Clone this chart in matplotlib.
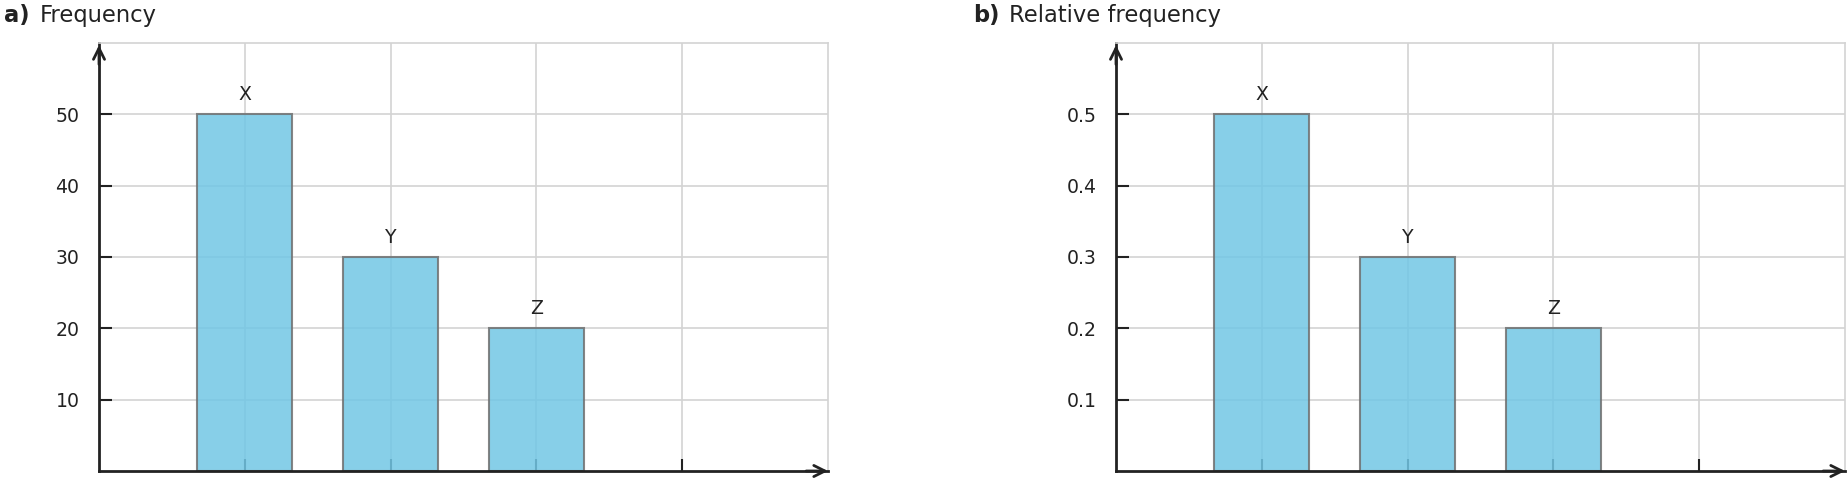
import matplotlib.pyplot as plt

# data
categories = ["X", "Y", "Z"]
positions = [1, 2, 3]
counts = [50, 30, 20]
rel_freq = [0.5, 0.3, 0.2]

panels = [
    ("a)", "Frequency", counts, [10, 20, 30, 40, 50], ["10", "20", "30", "40", "50"], 60),
    ("b)", "Relative frequency", rel_freq, [0.1, 0.2, 0.3, 0.4, 0.5],
     ["0.1", "0.2", "0.3", "0.4", "0.5"], 0.6),
]

W, H = 1848, 480
fig = plt.figure(figsize=(W / 100, H / 100), dpi=100)

ax_lefts = [99, 1116]
title_x = [4, 973]
ax_w = 729
ax_bottom = 9
ax_top = 43

for (tag, title, vals, yt, ytl, ymax), lx, tx in zip(panels, ax_lefts, title_x):
    ax = fig.add_axes([lx / W, ax_bottom / H, ax_w / W, (H - ax_top - ax_bottom) / H])
    ax.set_xlim(0, 5)
    ax.set_ylim(0, ymax)
    ax.set_axisbelow(True)
    ax.grid(True, color="#d3d3d3", linewidth=1.2)
    # semi-transparent bars so the grid shows through
    ax.bar(positions, vals, width=0.65, color="#72c7e5", alpha=0.85,
           edgecolor="#707070", linewidth=1.5, zorder=2)
    for p, v, c in zip(positions, vals, categories):
        ax.text(p, v + ymax * 0.024, c, ha="center", va="bottom", fontsize=13.6, color="#222222")
    ax.set_xticks([1, 2, 3, 4])
    ax.set_xticklabels([])
    ax.set_yticks(yt)
    ax.set_yticklabels(ytl)
    ax.tick_params(axis="both", direction="in", length=9, width=1.5, color="#222222",
                   labelsize=13.6, labelcolor="#222222", pad=14)
    for s in ["top", "right"]:
        ax.spines[s].set_color("#d3d3d3")
        ax.spines[s].set_linewidth(1.2)
    for s in ["left", "bottom"]:
        ax.spines[s].set_color("#222222")
        ax.spines[s].set_linewidth(2)
    # arrow heads at axis ends
    ax.annotate("", xy=(1.0, 0), xytext=(0.97, 0), xycoords="axes fraction",
                arrowprops=dict(arrowstyle="->", color="#222222", lw=2,
                                mutation_scale=20, shrinkA=0, shrinkB=0))
    ax.annotate("", xy=(0, 0.995), xytext=(0, 0.95), xycoords="axes fraction",
                arrowprops=dict(arrowstyle="->", color="#222222", lw=2,
                                mutation_scale=20, shrinkA=0, shrinkB=0))
    fig.text(tx / W, 1 - 15.5 / H, tag, fontsize=16.3, fontweight="bold", color="#222222",
             ha="left", va="center")
    fig.text((tx + 36) / W, 1 - 15.5 / H, title, fontsize=16.3, color="#222222",
             ha="left", va="center")

fig.savefig("out.png", dpi=100)
